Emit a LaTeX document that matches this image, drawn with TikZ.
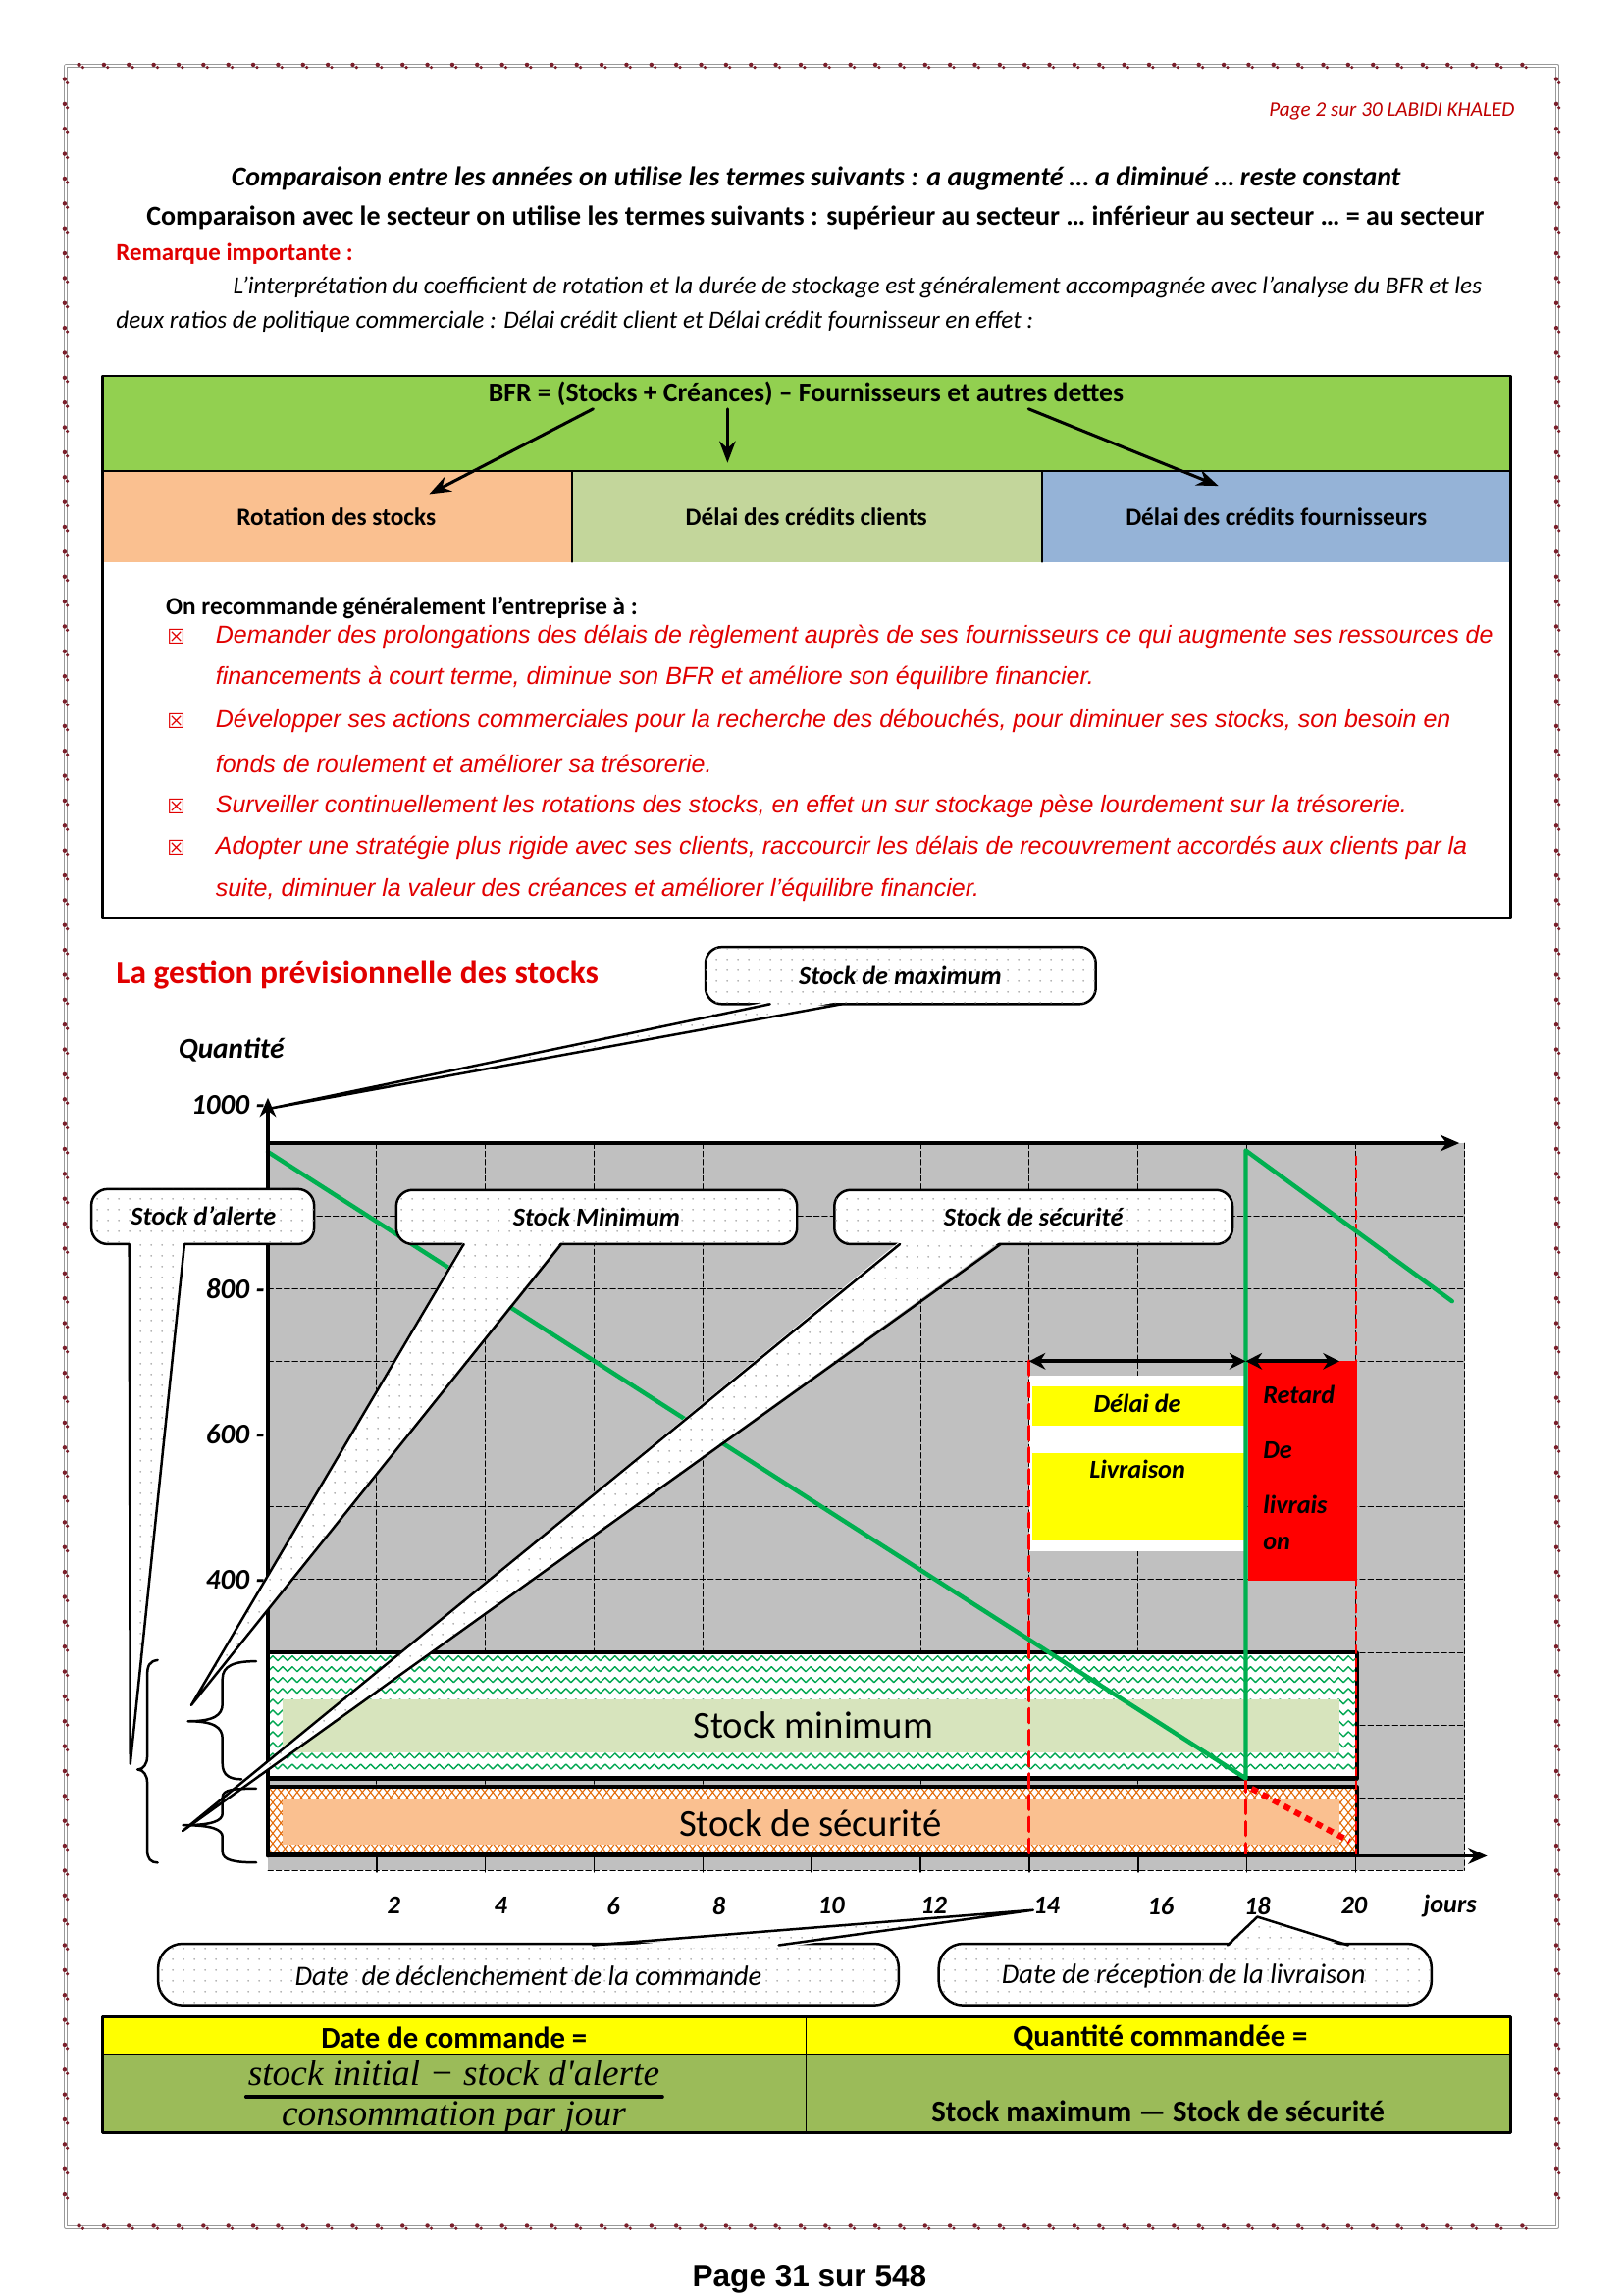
\documentclass[tikz,border=0pt]{standalone}
\usepackage{fontspec}
\setmainfont{Carlito}
\newfontfamily\arialfont{Liberation Sans}
\newfontfamily\cambriafont{Liberation Serif}
\newfontfamily\symbolfont{DejaVu Sans}
\usetikzlibrary{arrows.meta,patterns.meta,decorations.pathmorphing}

\newcommand{\setfs}[1]{\fontsize{#1}{#1}\selectfont}

\definecolor{remred}{HTML}{E10000}
\definecolor{headred}{HTML}{C00000}
\definecolor{ornament}{HTML}{7A1F2B}
\definecolor{bfrgreen}{HTML}{92D050}
\definecolor{rotorange}{HTML}{FAC090}
\definecolor{clientgreen}{HTML}{C3D69B}
\definecolor{supplierblue}{HTML}{95B3D7}
\definecolor{chartgrey}{HTML}{C0C0C0}
\definecolor{stockgreen}{HTML}{00B050}
\definecolor{zigzaggreen}{HTML}{00A651}
\definecolor{mininner}{HTML}{D7E4BD}
\definecolor{secorange}{HTML}{E46C0A}
\definecolor{tabyellow}{HTML}{FFFF00}
\definecolor{tabolive}{HTML}{9BBB59}

\begin{document}
\begin{tikzpicture}[
  x=0.18941mm,
  y=-0.18941mm,
  line cap=round,
  line join=round,
  every node/.style={inner sep=0pt},
  border line/.style={draw=gray!80, line width=0.35pt, double=white, double distance=0.7pt},
  bold line/.style={font=\setfs{10.1}\bfseries},
  body italic/.style={font=\setfs{9.1}\itshape},
  cell text/.style={font=\setfs{9.15}\bfseries},
  red item/.style={font=\arialfont\setfs{9.03}\itshape, text=remred, anchor=west},
  bullet box/.style={font=\symbolfont\setfs{7.5}, text=remred},
  bfr arrow/.style={-{Stealth[length=8pt,width=6pt]}, line width=1.1pt},
  grid line/.style={line width=0.3pt, dash pattern=on 2pt off 1pt},
  axis/.style={line width=1.3pt, -{Stealth[length=7pt,width=6pt]}},
  axis label/.style={font=\setfs{9.5}\bfseries\itshape},
  band border/.style={line width=1.5pt},
  min zigzag/.style={draw=zigzaggreen, line width=0.5pt, decorate,
    decoration={zigzag, segment length=3.6pt, amplitude=0.9pt}},
  sec zigzag/.style={draw=secorange, line width=0.4pt, decorate,
    decoration={zigzag, segment length=6pt, amplitude=1.9pt}},
  stock line/.style={draw=stockgreen, line width=1.6pt},
  delay arrow/.style={{Stealth[length=6pt,width=6pt]}-{Stealth[length=6pt,width=6pt]}, line width=1.5pt},
  callout/.style={draw, line width=0.9pt, rounded corners=6pt, fill=white,
    postaction={pattern={Dots[distance=4pt,radius=0.35pt]}, pattern color=black!40}},
  callout fill/.style={fill=white,
    postaction={pattern={Dots[distance=4pt,radius=0.35pt]}, pattern color=black!40}},
  callout edge/.style={line width=0.9pt},
  callout text/.style={font=\setfs{9.5}\bfseries\itshape},
  date text/.style={font=\setfs{10.3}\itshape},
  brace line/.style={line width=0.9pt},
  table text/.style={font=\setfs{11.1}\bfseries}
]
  \useasboundingbox (0,0) rectangle (1109,1568);
  \fill[white] (0,0) rectangle (1109,1568);

  % Page border with its small ornaments
  \draw[border line] (45,45) rectangle (1064,1521.5);
  \foreach \xx in {54,71,...,1056} {
    \fill[ornament] (\xx,44.2) circle (0.8pt) (\xx+2.6,46) circle (0.65pt);
    \fill[ornament] (\xx,1520.7) circle (0.8pt) (\xx+2.6,1522.5) circle (0.65pt);
  }
  \foreach \yy in {54,71,...,1514} {
    \fill[ornament] (44.2,\yy) circle (0.8pt) (46,\yy+2.6) circle (0.65pt);
    \fill[ornament] (1063.2,\yy) circle (0.8pt) (1065,\yy+2.6) circle (0.65pt);
  }

  % Heading lines
  \node[anchor=east, font=\setfs{7.65}\itshape, text=headred] (pagehead) at (1035,76) {Page 2 sur 30 LABIDI KHALED};
  \node[bold line, font=\setfs{10.1}\bfseries\itshape] (cmpyears) at (557.5,122) {Comparaison entre les années on utilise les termes suivants : a augmenté … a diminué … reste constant};
  \node[bold line] (cmpsector) at (557,148.5) {Comparaison avec le secteur on utilise les termes suivants : supérieur au secteur … inférieur au secteur … = au secteur};
  \node[anchor=west, font=\setfs{9}\bfseries, text=remred] (remark) at (79,173.5) {Remarque importante :};
  \node[anchor=west, body italic] (interp1) at (159,196.7) {L’interprétation du coefficient de rotation et la durée de stockage est généralement accompagnée avec l’analyse du BFR et les};
  \node[anchor=west, body italic] (interp2) at (79,220) {deux ratios de politique commerciale : Délai crédit client et Délai crédit fournisseur en effet :};

  % BFR table
  \fill[bfrgreen] (70,256.6) rectangle (1032,321.8);
  \fill[rotorange] (70,321.8) rectangle (390.7,384);
  \fill[clientgreen] (390.7,321.8) rectangle (712,384);
  \fill[supplierblue] (712,321.8) rectangle (1032,384);
  \draw[line width=0.9pt] (70,256.6) rectangle (1032,627.6);
  \draw[line width=0.9pt] (70,321.8) -- (1032,321.8);
  \draw[line width=0.6pt] (390.7,321.8) -- (390.7,384) (712,321.8) -- (712,384);
  \node[bold line, font=\setfs{10}\bfseries] (bfr) at (550.7,269.3) {BFR = (Stocks + Créances) – Fournisseurs et autres dettes};
  \node[cell text] (rotation) at (229.7,353) {Rotation des stocks};
  \node[cell text] (clients) at (550.8,353) {Délai des crédits clients};
  \node[cell text] (suppliers) at (872,353) {Délai des crédits fournisseurs};
  \coordinate (bfrA) at (405.2,279.4);
  \coordinate (bfrB) at (497,279.4);
  \coordinate (bfrC) at (702.7,279.4);
  \coordinate (rotA) at (293.2,337.5);
  \coordinate (cliB) at (497,316.2);
  \coordinate (supC) at (832.4,331.9);
  \draw[bfr arrow] (bfrA) -- (rotA);
  \draw[bfr arrow] (bfrB) -- (cliB);
  \draw[bfr arrow] (bfrC) -- (supC);

  % Recommendations
  \node[anchor=west, font=\setfs{9.1}\bfseries] (recommend) at (113,415.2) {On recommande généralement l’entreprise à :};
  \foreach \yy [count=\k] in {434.7,492.8,550.9,579.3}
    \node[bullet box] (bullet\k) at (120.5,\yy) {☒};
  \node[red item] (item1a) at (147,434.7) {Demander des prolongations des délais de règlement auprès de ses fournisseurs ce qui augmente ses ressources de};
  \node[red item] (item1b) at (147,463.1) {financements à court terme, diminue son BFR et améliore son équilibre financier.};
  \node[red item] (item2a) at (147,492.8) {Développer ses actions commerciales pour la recherche des débouchés, pour diminuer ses stocks, son besoin en};
  \node[red item] (item2b) at (147,521.8) {fonds de roulement et améliorer sa trésorerie.};
  \node[red item] (item3) at (147,550.9) {Surveiller continuellement les rotations des stocks, en effet un sur stockage pèse lourdement sur la trésorerie.};
  \node[red item] (item4a) at (147,579.3) {Adopter une stratégie plus rigide avec ses clients, raccourcir les délais de recouvrement accordés aux clients par la};
  \node[red item] (item4b) at (147,607.9) {suite, diminuer la valeur des créances et améliorer l’équilibre financier.};

  % Stock chart
  \node[anchor=west, font=\setfs{12.1}\bfseries, text=remred] (gestion) at (79,666) {La gestion prévisionnelle des stocks};
  \fill[chartgrey] (183,781) rectangle (1001,1278);
  \foreach \i in {1,...,11}
    \draw[grid line] ({183+\i*74.3},781) -- ({183+\i*74.3},1278);
  \foreach \j in {1,...,10}
    \draw[grid line] (183,{781+\j*49.7}) -- (1001,{781+\j*49.7});

  % Stock minimum band
  \begin{scope}
    \clip (183,1129) rectangle (927,1215);
    \fill[white] (183,1129) rectangle (927,1215);
    \foreach \yy in {1133,1140.4,...,1214}
      \draw[min zigzag] (178,\yy) -- (932,\yy);
  \end{scope}
  \fill[mininner] (193,1161) rectangle (915,1197);
  \draw[band border] (183,1129) rectangle (927,1215);
  \node[font=\setfs{14}] (stockmin) at (555.6,1178.9) {Stock minimum};

  % Stock de securite band
  \begin{scope}
    \clip (183,1221) rectangle (927,1267);
    \fill[white] (183,1221) rectangle (927,1267);
    \foreach \yy in {1221,1228,...,1270} {
      \draw[sec zigzag] (178,\yy) -- (932,\yy);
      \draw[sec zigzag, decoration={amplitude=-1.9pt}] (178,\yy) -- (932,\yy);
    }
  \end{scope}
  \fill[rotorange] (193,1229) rectangle (915,1260.6);
  \draw[band border] (183,1221) rectangle (927,1267);
  \node[font=\setfs{14}] (stocksec) at (553.6,1245.9) {Stock de sécurité};

  % Delivery delay and late delivery boxes
  \fill[white] (703,940) rectangle (851,1060);
  \fill[tabyellow] (705,947.5) rectangle (851,974);
  \fill[tabyellow] (705,992.5) rectangle (851,1052.6);
  \node[callout text] (delai1) at (777,959) {Délai de};
  \node[callout text] (delai2) at (777,1004) {Livraison};
  \fill[red] (853,930) rectangle (927,1080);
  \node[callout text, anchor=west] (retard1) at (862.6,953) {Retard};
  \node[callout text, anchor=west] (retard2) at (862.6,991) {De};
  \node[callout text, anchor=west] (retard3) at (862.6,1028) {livrais};
  \node[callout text, anchor=west] (retard4) at (862.6,1054.7) {on};

  % Order date, reception date and end of period
  \draw[red, line width=1.3pt, dash pattern=on 5pt off 3pt] (703,930) -- (703,1268);
  \draw[red, line width=1.3pt, dash pattern=on 5pt off 3pt] (851,1215) -- (851,1268);
  \draw[red, line width=0.6pt, dash pattern=on 3pt off 2pt] (926.6,790) -- (926.6,1268);
  \draw[red, line width=2.2pt, dash pattern=on 2.5pt off 2pt, line cap=butt] (855,1222) -- (922,1258);

  % Stock level
  \coordinate (s0) at (183,787);
  \coordinate (sreceive) at (851,1215);
  \coordinate (srefill) at (851,786);
  \coordinate (send) at (992,889);
  \draw[stock line] (s0) -- (sreceive) -- (srefill) -- (send);

  \coordinate (delayL) at (703,930);
  \coordinate (delayR) at (851,930);
  \coordinate (lateR) at (915,930);
  \draw[delay arrow] (delayL) -- (delayR);
  \draw[delay arrow] (delayR) -- (lateR);

  % Axes
  \coordinate (origin) at (183,1268);
  \coordinate (ytop) at (183,750);
  \draw[axis] (origin) -- (ytop);
  \draw[axis] (183,781) -- (997,781);
  \draw[axis] (origin) -- (1016,1268);
  \foreach \i in {1,...,10}
    \draw[line width=0.6pt] ({183+\i*74.3},1268) -- ({183+\i*74.3},1279);
  \node[axis label, font=\setfs{10.6}\bfseries\itshape] (quantite) at (158,717) {Quantité};
  \node[axis label, font=\setfs{10.5}\bfseries\itshape, anchor=east] (qty1000) at (181,755) {1000 -};
  \foreach \q/\yy in {800/880.4,600/979.8,400/1079.2}
    \node[axis label, font=\setfs{10.5}\bfseries\itshape, anchor=east] (qty\q) at (181,\yy) {\q\ -};
  \foreach \d/\xx in {2/269,4/342,6/419,8/491,10/568,12/638,14/715,16/793,18/859,20/925}
    \node[axis label] (day\d) at (\xx,1302) {\d};
  \node[axis label] (jours) at (990.6,1302) {jours};

  % Stock de maximum callout
  \coordinate (maxtip) at (186,757);
  \path[callout] (482,647) rectangle (748.6,686);
  \fill[callout fill] (526,684) -- (maxtip) -- (575,684) -- cycle;
  \draw[callout edge] (526,686) -- (maxtip) -- (575,686);
  \node[callout text] (cmax) at (615,666.5) {Stock de maximum};

  % Stock d'alerte callout
  \coordinate (alertip) at (89,1205);
  \path[callout] (62.4,812.4) rectangle (214.6,850);
  \fill[callout fill] (88.3,848) -- (alertip) -- (126,848) -- cycle;
  \draw[callout edge] (88.3,850) -- (alertip) -- (126,850);
  \node[callout text] (calert) at (139,831) {Stock d’alerte};

  % Stock Minimum callout
  \coordinate (mintip) at (130.7,1165);
  \path[callout] (270.7,813) rectangle (544.5,850);
  \fill[callout fill] (316.8,848) -- (mintip) -- (383.5,848) -- cycle;
  \draw[callout edge] (316.8,850) -- (mintip) -- (383.5,850);
  \node[callout text] (cmin) at (407.6,831.5) {Stock Minimum};

  % Stock de securite callout
  \coordinate (sectip) at (124.7,1251);
  \path[callout] (570,813) rectangle (842,850);
  \fill[callout fill] (614.8,848) -- (sectip) -- (683.6,848) -- cycle;
  \draw[callout edge] (614.8,850) -- (sectip) -- (683.6,850);
  \node[callout text] (csec) at (706,831.5) {Stock de sécurité};

  % Braces grouping the bands
  \draw[brace line] (107.7,1134.2) .. controls (102,1135) and (100.6,1138) .. (100.6,1145)
    -- (100.6,1200) .. controls (100.6,1205) and (98,1209) .. (94,1209)
    .. controls (98,1209) and (100.6,1213) .. (100.6,1218)
    -- (100.6,1264) .. controls (100.6,1270) and (103,1272.6) .. (107.7,1272.6);
  \draw[brace line] (175,1135) .. controls (160,1135) and (152,1138) .. (152,1147)
    -- (152,1164) .. controls (152,1172) and (146,1176) .. (128.5,1176)
    .. controls (146,1176) and (152,1180) .. (152,1188)
    -- (152,1205) .. controls (152,1213) and (157,1215.6) .. (165,1215.6);
  \draw[brace line] (175,1222) .. controls (160,1222) and (152,1222.5) .. (152,1228)
    -- (152,1239) .. controls (152,1244) and (145,1247) .. (125,1247)
    .. controls (145,1247) and (152,1250) .. (152,1255)
    -- (152,1265) .. controls (152,1271) and (160,1272.5) .. (175,1272.5);

  % Date callouts under the axis
  \coordinate (tip14) at (705.8,1305);
  \path[callout, rounded corners=9pt] (108,1328) rectangle (614,1370);
  \fill[callout fill] (405,1331) -- (tip14) -- (532,1331) -- cycle;
  \draw[callout edge] (405,1329) -- (tip14) -- (532,1329);
  \node[date text] (cdeclench) at (361,1349.8) {Date\ \ de déclenchement de la commande};

  \coordinate (tip18) at (859,1309.6);
  \path[callout, rounded corners=9pt] (641.3,1328) rectangle (978,1370);
  \fill[callout fill] (838.7,1331) -- (tip18) -- (921,1331) -- cycle;
  \draw[callout edge] (838.7,1329) -- (tip18) -- (921,1329);
  \node[date text] (creception) at (808.6,1349.8) {Date de réception de la livraison};

  % Formula table
  \fill[tabyellow] (70,1377.8) rectangle (1032,1403.5);
  \fill[tabolive] (70,1403.5) rectangle (1032,1457);
  \draw[line width=1pt] (70,1377.8) rectangle (1032,1457);
  \draw[line width=0.6pt] (70,1403.5) -- (1032,1403.5) (550.8,1377.8) -- (550.8,1457);
  \node[table text] (datecmd) at (310.3,1392.3) {Date de commande =};
  \node[table text] (qtecmd) at (792.7,1392.3) {Quantité commandée =};
  \node[font=\cambriafont\setfs{13.5}\itshape] (fracnum) at (310,1416) {stock initial − stock d'alerte};
  \coordinate (fracL) at (168,1432.6);
  \coordinate (fracR) at (452.6,1432.6);
  \draw[line width=1.2pt] (fracL) -- (fracR);
  \node[font=\cambriafont\setfs{13.5}\itshape] (fracden) at (310,1447) {consommation par jour};
  \node[table text] (qteformula) at (791.2,1442.6) {Stock maximum — Stock de sécurité};

  % Page footer
  \node[font=\arialfont\setfs{11.4}\bfseries] (footer) at (553,1557) {Page 31 sur 548};
\end{tikzpicture}
\end{document}
